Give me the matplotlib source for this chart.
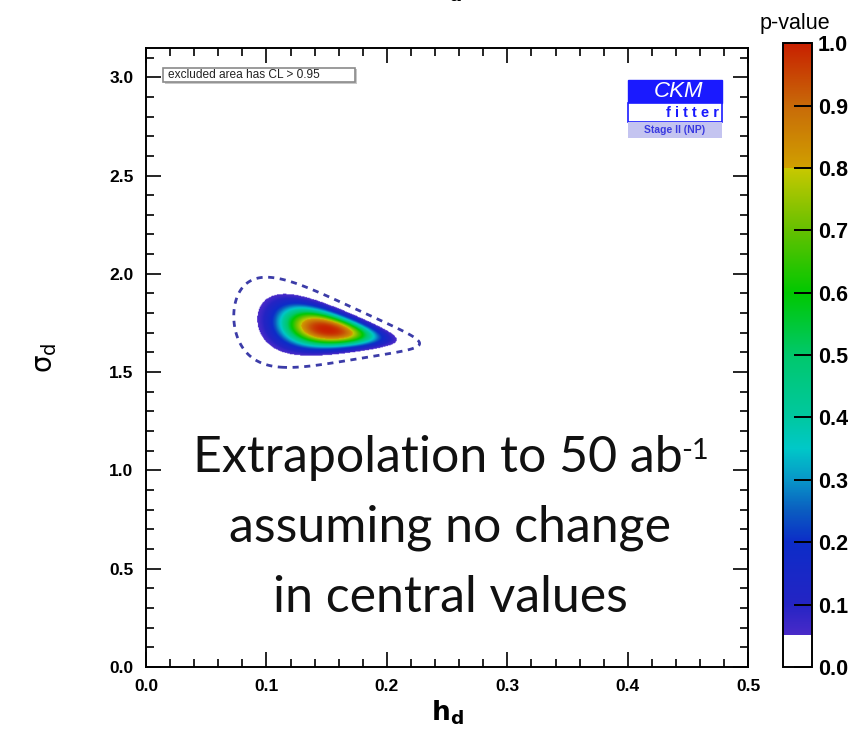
import numpy as np
import matplotlib
matplotlib.use("Agg")
import matplotlib.pyplot as plt
from matplotlib.colors import LinearSegmentedColormap, Normalize
from matplotlib.patches import Rectangle
from matplotlib.ticker import MultipleLocator

plt.rcParams['font.family'] = ['Liberation Sans', 'DejaVu Sans']

# fit result (p-value surface in the (h_d, sigma_d) plane)
center_h = 0.150
center_sigma = 1.715
width_h = 0.058
width_sigma = 0.13
width_shrink = 10.5      # sigma width shrinks with h
tilt = -0.9              # valley slope d(sigma)/d(h)
profile_power = 2.6
edge_level = 0.05        # p-value at the filled edge
dashed_scale = 1.33      # dashed contour (current data) relative size

# colour scale of the p-value
cbar_pos = [0.0, 0.0499, 0.05, 0.1, 0.2, 0.25, 0.3, 0.35, 0.4, 0.5, 0.6, 0.7, 0.7999, 0.8, 0.9, 1.0]
cbar_col = ['#ffffff', '#ffffff', '#4a2ac8', '#2424c4', '#0c2cc8', '#0a5cc0', '#0896c8',
            '#00c8c8', '#00c8a0', '#00c86c', '#00c800', '#64c000', '#c8c800', '#d0a000',
            '#c86a08', '#c82000']

x_ticks = [0.0, 0.1, 0.2, 0.3, 0.4, 0.5]
y_ticks = [0.0, 0.5, 1.0, 1.5, 2.0, 2.5, 3.0]
c_ticks = [0.0, 0.1, 0.2, 0.3, 0.4, 0.5, 0.6, 0.7, 0.8, 0.9, 1.0]

cmap = LinearSegmentedColormap.from_list('ckm', list(zip(cbar_pos, cbar_col)), N=1024)

h = np.linspace(0.0, 0.5, 700)
s = np.linspace(0.0, 3.15, 900)
H, S = np.meshgrid(h, s)
wy = width_sigma * np.exp(-width_shrink * (H - center_h))
yc = center_sigma + tilt * (H - center_h)
R = np.sqrt(((H - center_h) / width_h) ** 2 + ((S - yc) / wy) ** 2)
P = np.exp(np.log(edge_level) * R ** profile_power)

fig = plt.figure(figsize=(8.64, 7.46), dpi=100)
ax = fig.add_axes([0.169, 0.106, 0.697, 0.830])

ax.imshow(P, origin='lower', extent=[0.0, 0.5, 0.0, 3.15], aspect='auto',
          cmap=cmap, vmin=0, vmax=1, interpolation='bilinear')
ax.contour(H, S, R, levels=[dashed_scale], colors='#3c3ca8',
           linewidths=2.0, linestyles=[(0, (2.2, 2.0))])

ax.set_xlim(0.0, 0.5)
ax.set_ylim(0.0, 3.15)
ax.set_xticks(x_ticks)
ax.set_yticks(y_ticks)
ax.set_xticklabels([f'{v:.1f}' for v in x_ticks])
ax.set_yticklabels([f'{v:.1f}' for v in y_ticks])
ax.xaxis.set_minor_locator(MultipleLocator(0.02))
ax.yaxis.set_minor_locator(MultipleLocator(0.1))
ax.tick_params(which='both', direction='in', top=True, right=True, width=1.2)
ax.tick_params(which='major', length=11, labelsize=12.5, pad=9)
ax.tick_params(which='minor', length=6)
for lab in ax.get_xticklabels() + ax.get_yticklabels():
    lab.set_fontweight('bold')
for sp in ax.spines.values():
    sp.set_linewidth(1.4)

ax.set_xlabel(r'$\mathbf{h_d}$', fontsize=19, math_fontfamily='dejavusans', labelpad=3)
ax.set_ylabel(r'$\mathrm{\sigma_d}$', fontsize=20, math_fontfamily='dejavusans', labelpad=36)

# legend box with shadow
ax.add_patch(Rectangle((0.031, 0.941), 0.319, 0.024, transform=ax.transAxes,
                       facecolor='#c8c8c8', edgecolor='none', zorder=4))
ax.add_patch(Rectangle((0.028, 0.945), 0.319, 0.023, transform=ax.transAxes,
                       facecolor='white', edgecolor='#8a8a8a', lw=1.2, zorder=5))
ax.text(0.036, 0.9565, 'excluded area has CL > 0.95', transform=ax.transAxes,
        fontsize=8.6, va='center', ha='left', zorder=6, color='#222222')

# CKMfitter logo
ax.add_patch(Rectangle((0.800, 0.911), 0.157, 0.037, transform=ax.transAxes,
                       facecolor='#1a1aff', edgecolor='#1a1aff', zorder=5))
ax.add_patch(Rectangle((0.800, 0.880), 0.157, 0.031, transform=ax.transAxes,
                       facecolor='white', edgecolor='#1a1aff', lw=1.2, zorder=5))
ax.add_patch(Rectangle((0.800, 0.855), 0.157, 0.025, transform=ax.transAxes,
                       facecolor='#c4c4f0', edgecolor='none', zorder=5))
ax.text(0.885, 0.930, 'CKM', transform=ax.transAxes, fontsize=16, style='italic',
        color='white', ha='center', va='center', zorder=6)
ax.text(0.952, 0.894, 'f i t t e r', transform=ax.transAxes, fontsize=10.5, weight='bold',
        color='#1a1aff', ha='right', va='center', zorder=6)
ax.text(0.878, 0.867, 'Stage II (NP)', transform=ax.transAxes, fontsize=7.5,
        weight='bold', color='#3a3ae0', ha='center', va='center', zorder=6)

# overlay annotation
big = dict(ha='center', va='center', fontsize=36, family='Lato', color='#111111')
line1 = fig.text(0.507, 1 - 458 / 746, 'Extrapolation to 50 ab', **big)
fig.text(0.521, 1 - 528 / 746, 'assuming no change', **big)
fig.text(0.521, 1 - 598 / 746, 'in central values', **big)
renderer = fig.canvas.get_renderer()
bb = line1.get_window_extent(renderer=renderer)
fig.text(bb.x1 / fig.bbox.width - 0.002, bb.y1 / fig.bbox.height - 0.004, '-1',
         fontsize=21, family='Lato', color='#111111', ha='left', va='top')

# cropped title fragment
fig.text(0.515, 1.003, r'$\mathbf{h_d}$', fontsize=19, math_fontfamily='dejavusans',
         ha='center', va='baseline')

# colour bar
cax = fig.add_axes([0.906, 0.106, 0.034, 0.836])
sm = plt.cm.ScalarMappable(cmap=cmap, norm=Normalize(0, 1))
cb = fig.colorbar(sm, cax=cax, ticks=c_ticks)
cb.outline.set_linewidth(1.4)
cax.tick_params(direction='in', length=13, width=1.4, labelsize=15.5, pad=4)
cax.set_yticklabels([f'{v:.1f}' for v in c_ticks])
for lab in cax.get_yticklabels():
    lab.set_fontweight('bold')
fig.text(795 / 864, 1 - 24 / 746, 'p-value', fontsize=15.5, ha='center', va='center')

fig.savefig('out.png', dpi=100)
